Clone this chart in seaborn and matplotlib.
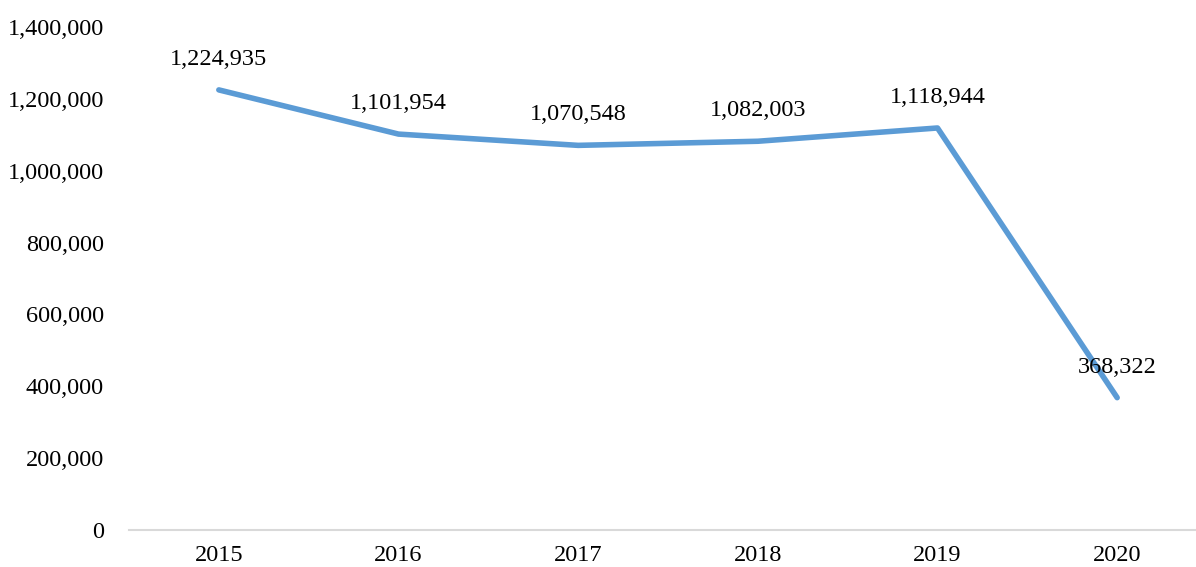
import matplotlib
matplotlib.use("Agg")
import matplotlib.pyplot as plt
import seaborn as sns
import pandas as pd

years = ["2015", "2016", "2017", "2018", "2019", "2020"]
values = [1224935, 1101954, 1070548, 1082003, 1118944, 368322]
yticks = [0, 200000, 400000, 600000, 800000, 1000000, 1200000, 1400000]

df = pd.DataFrame({"year": years, "value": values})

sns.set_style("white")
plt.rcParams["font.family"] = ["Liberation Serif", "DejaVu Serif"]

fig = plt.figure(figsize=(11.96, 5.67), dpi=100)
ax = fig.add_axes([129 / 1196, 37 / 567, 1078 / 1196, 503 / 567])

sns.lineplot(data=df, x="year", y="value", ax=ax, color="#5B9BD5",
             linewidth=4, sort=False)
ax.lines[0].set_solid_capstyle("round")

# value labels above each point
for i, v in enumerate(values):
    ax.annotate(f"{v:,}", (i, v), xytext=(0, 22), textcoords="offset points",
                ha="center", va="center", fontsize=17.5, color="black")

ax.set_xlim(-0.5, 5.5)
ax.set_ylim(0, 1400000)
ax.set_yticks(yticks)
ax.set_yticklabels([f"{t:,}" for t in yticks])
ax.tick_params(axis="both", length=0, labelsize=17.5, colors="black")
ax.tick_params(axis="x", pad=11)
ax.tick_params(axis="y", pad=18)
ax.set_xlabel("")
ax.set_ylabel("")
for s in ["top", "right", "left"]:
    ax.spines[s].set_visible(False)
ax.spines["bottom"].set_color("#D9D9D9")
ax.spines["bottom"].set_linewidth(1.5)

fig.savefig("out.png", dpi=100)
